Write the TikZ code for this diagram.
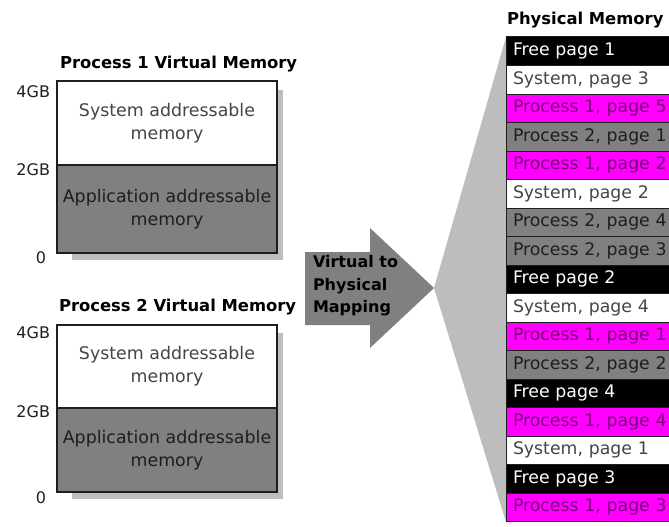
\documentclass[tikz,border=0pt]{standalone}
\usepackage{fontspec}
\setmainfont{DejaVu Sans}
\definecolor{shade}{HTML}{BDBDBD}
\definecolor{midgray}{HTML}{808080}
\definecolor{pagemagenta}{HTML}{FF00FF}
\definecolor{purpleink}{HTML}{7A007A}
\definecolor{inkdark}{HTML}{1E1E1E}
\definecolor{inksoft}{HTML}{454545}
\begin{document}
\begin{tikzpicture}[x=1pt,y=-1pt,
  every node/.style={inner sep=0pt, outer sep=0pt},
  heading/.style={font=\fontsize{16.4}{20}\selectfont\bfseries, text=black, anchor=base west},
  gblabel/.style={font=\fontsize{16}{20}\selectfont, text=inkdark, anchor=base east},
  half/.style={rectangle, anchor=north west, minimum width=220pt, draw=inkdark, line width=1.3pt,
    align=center, font=\fontsize{17.4}{23}\selectfont},
  syshalf/.style={half, fill=white, text=inksoft},
  apphalf/.style={half, fill=midgray, text=inkdark},
  dropshade/.style={fill=shade},
  pagerow/.style={rectangle, anchor=north west, minimum height=28.5pt, text width=166pt,
    inner xsep=7pt, align=left, draw=inkdark, line width=1pt, font=\fontsize{17.3}{20}\selectfont},
  freerow/.style={pagerow, fill=black, text=white},
  sysrow/.style={pagerow, fill=white, text=inksoft},
  ponerow/.style={pagerow, fill=pagemagenta, text=purpleink},
  ptworow/.style={pagerow, fill=midgray, text=inkdark},
  maptext/.style={font=\fontsize{16}{22.5}\selectfont\bfseries, text=black, align=left, anchor=west}]

\useasboundingbox (0,0) rectangle (669,527);
\clip (0,0) rectangle (669,527);

% ---- Process 1 virtual address space ----
\node[heading] (title1) at (60,68) {Process 1 Virtual Memory};
\fill[dropshade] (72,90) rectangle (283,260);
\node[syshalf, minimum height=84pt] (sys1) at (57,81) {System addressable\\memory};
\node[apphalf, minimum height=88pt] (app1) at (57,165) {Application addressable\\memory};
\node[gblabel] (top1) at (50,97) {4GB};
\node[gblabel] (mid1) at (50,175) {2GB};
\node[gblabel] (low1) at (46,263) {0};

% ---- Process 2 virtual address space ----
\node[heading] (title2) at (59,311) {Process 2 Virtual Memory};
\fill[dropshade] (72,333) rectangle (283,499);
\node[syshalf, minimum height=83pt] (sys2) at (57,325) {System addressable\\memory};
\node[apphalf, minimum height=84pt] (app2) at (57,408) {Application addressable\\memory};
\node[gblabel] (top2) at (50,338) {4GB};
\node[gblabel] (mid2) at (50,417) {2GB};
\node[gblabel] (low2) at (46,503) {0};

% ---- mapping arrow and the fan onto physical memory ----
\coordinate (tip) at (434,288);
\fill[midgray] (305,252) -- (370,252) -- (370,228) -- (tip) -- (370,348) -- (370,325) -- (305,325) -- cycle;
\node[maptext] (map) at (313,286) {Virtual to\\Physical\\Mapping};
\fill[dropshade] (tip) -- (506,37) -- (506,522) -- cycle;

% ---- physical page frames ----
\node[heading] (phys) at (507,25) {Physical Memory};
\node[freerow]  (r1)  at (506,37)    {Free page 1};
\node[sysrow]   (r2)  at (506,65.5)  {System, page 3};
\node[ponerow]  (r3)  at (506,94)    {Process 1, page 5};
\node[ptworow]  (r4)  at (506,122.5) {Process 2, page 1};
\node[ponerow]  (r5)  at (506,151)   {Process 1, page 2};
\node[sysrow]   (r6)  at (506,179.5) {System, page 2};
\node[ptworow]  (r7)  at (506,208)   {Process 2, page 4};
\node[ptworow]  (r8)  at (506,236.5) {Process 2, page 3};
\node[freerow]  (r9)  at (506,265)   {Free page 2};
\node[sysrow]   (r10) at (506,293.5) {System, page 4};
\node[ponerow]  (r11) at (506,322)   {Process 1, page 1};
\node[ptworow]  (r12) at (506,350.5) {Process 2, page 2};
\node[freerow]  (r13) at (506,379)   {Free page 4};
\node[ponerow]  (r14) at (506,407.5) {Process 1, page 4};
\node[sysrow]   (r15) at (506,436)   {System, page 1};
\node[freerow]  (r16) at (506,464.5) {Free page 3};
\node[ponerow]  (r17) at (506,493)   {Process 1, page 3};
\end{tikzpicture}
\end{document}
